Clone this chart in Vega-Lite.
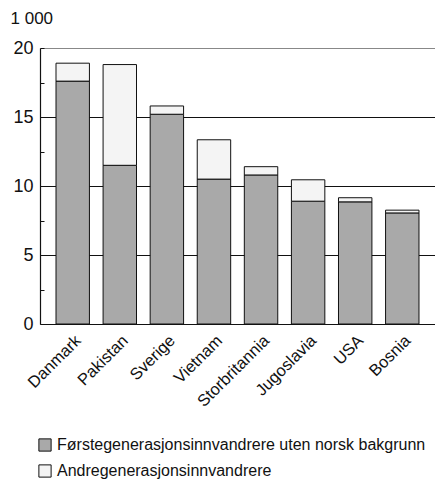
{
  "$schema": "https://vega.github.io/schema/vega-lite/v6.json",
  "width": 395,
  "height": 276,
  "autosize": {"type": "none"},
  "padding": {"left": 40, "top": 48, "right": 0, "bottom": 174},
  "background": "white",
  "config": {
    "font": "Liberation Sans",
    "view": {"stroke": null}
  },
  "data": {
    "values": [
      {"land": "Danmark", "gruppe": "Førstegenerasjonsinnvandrere uten norsk bakgrunn", "ord": 1, "antall": 17.6},
      {"land": "Danmark", "gruppe": "Andregenerasjonsinnvandrere", "ord": 2, "antall": 1.3},
      {"land": "Pakistan", "gruppe": "Førstegenerasjonsinnvandrere uten norsk bakgrunn", "ord": 1, "antall": 11.5},
      {"land": "Pakistan", "gruppe": "Andregenerasjonsinnvandrere", "ord": 2, "antall": 7.3},
      {"land": "Sverige", "gruppe": "Førstegenerasjonsinnvandrere uten norsk bakgrunn", "ord": 1, "antall": 15.2},
      {"land": "Sverige", "gruppe": "Andregenerasjonsinnvandrere", "ord": 2, "antall": 0.6},
      {"land": "Vietnam", "gruppe": "Førstegenerasjonsinnvandrere uten norsk bakgrunn", "ord": 1, "antall": 10.5},
      {"land": "Vietnam", "gruppe": "Andregenerasjonsinnvandrere", "ord": 2, "antall": 2.85},
      {"land": "Storbritannia", "gruppe": "Førstegenerasjonsinnvandrere uten norsk bakgrunn", "ord": 1, "antall": 10.8},
      {"land": "Storbritannia", "gruppe": "Andregenerasjonsinnvandrere", "ord": 2, "antall": 0.6},
      {"land": "Jugoslavia", "gruppe": "Førstegenerasjonsinnvandrere uten norsk bakgrunn", "ord": 1, "antall": 8.9},
      {"land": "Jugoslavia", "gruppe": "Andregenerasjonsinnvandrere", "ord": 2, "antall": 1.55},
      {"land": "USA", "gruppe": "Førstegenerasjonsinnvandrere uten norsk bakgrunn", "ord": 1, "antall": 8.85},
      {"land": "USA", "gruppe": "Andregenerasjonsinnvandrere", "ord": 2, "antall": 0.3},
      {"land": "Bosnia", "gruppe": "Førstegenerasjonsinnvandrere uten norsk bakgrunn", "ord": 1, "antall": 8.05},
      {"land": "Bosnia", "gruppe": "Andregenerasjonsinnvandrere", "ord": 2, "antall": 0.2}
    ]
  },
  "mark": {"type": "bar", "stroke": "#111", "strokeWidth": 1},
  "encoding": {
    "x": {
      "field": "land",
      "type": "nominal",
      "sort": null,
      "scale": {"paddingInner": 0.29, "paddingOuter": 0.34},
      "axis": {
        "title": null,
        "labelAngle": -45,
        "labelAlign": "right",
        "labelBaseline": "top",
        "labelFontSize": 16.5,
        "labelColor": "#111",
        "labelPadding": 8,
        "ticks": false,
        "domainColor": "#111",
        "domainWidth": 1.2
      }
    },
    "y": {
      "field": "antall",
      "type": "quantitative",
      "stack": "zero",
      "scale": {"domain": [0, 20], "nice": false},
      "axis": {
        "title": "1 000",
        "titleAngle": 0,
        "titleAlign": "left",
        "titleBaseline": "middle",
        "titleX": -30,
        "titleY": -30,
        "titleFontSize": 17,
        "titleFontWeight": "normal",
        "titleColor": "#111",
        "values": [0, 2.5, 5, 7.5, 10, 12.5, 15, 17.5, 20],
        "labelExpr": "datum.value % 5 == 0 ? datum.label : ''",
        "labelFontSize": 18,
        "labelColor": "#111",
        "labelPadding": 11,
        "tickSize": -4,
        "tickColor": "#111",
        "domainColor": "#111",
        "domainWidth": 1.2,
        "grid": true,
        "gridColor": {"condition": {"test": "datum.value == 20", "value": "#888"}, "value": "#111"},
        "gridOpacity": {"condition": {"test": "datum.value % 5 != 0 || datum.value == 0", "value": 0}, "value": 1},
        "gridWidth": 1
      }
    },
    "color": {
      "field": "gruppe",
      "type": "nominal",
      "sort": ["Førstegenerasjonsinnvandrere uten norsk bakgrunn", "Andregenerasjonsinnvandrere"],
      "scale": {
        "domain": ["Førstegenerasjonsinnvandrere uten norsk bakgrunn", "Andregenerasjonsinnvandrere"],
        "range": ["#a9a9a9", "#f4f4f4"]
      },
      "legend": {
        "title": null,
        "orient": "none",
        "legendX": -3,
        "legendY": 389,
        "direction": "vertical",
        "symbolType": "square",
        "symbolSize": 150,
        "symbolStrokeColor": "#111",
        "symbolStrokeWidth": 1,
        "labelFontSize": 16,
        "labelColor": "#111",
        "labelLimit": 400,
        "rowPadding": 8,
        "labelOffset": 4
      }
    },
    "order": {"field": "ord", "type": "quantitative"}
  }
}
